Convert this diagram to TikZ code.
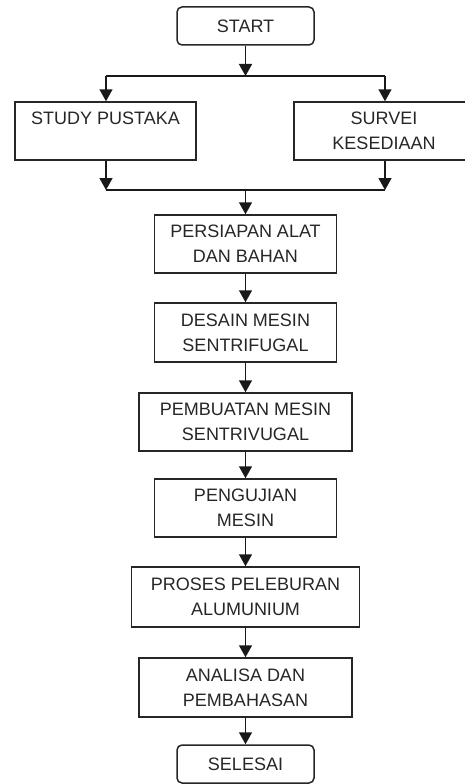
\documentclass[tikz,border=0pt]{standalone}
\usepackage{fontspec}
\setmainfont{Liberation Sans}
\usetikzlibrary{arrows.meta}
\tikzset{
  box/.style={draw=black!85, line width=1.5pt, text=black!85, align=center, inner sep=0pt,
    minimum width=182pt, minimum height=58pt, font=\fontsize{18}{25}\selectfont},
  term/.style={box, rounded corners=5pt, minimum width=137pt, minimum height=38pt},
  flow/.style={line width=1.5pt, draw=black!90, -{Triangle[width=13pt,length=12pt]}},
  line/.style={line width=1.5pt, draw=black!90},
}
\begin{document}
\begin{tikzpicture}[x=1pt,y=-1pt]
\useasboundingbox (0,0) rectangle (464,784);
\node[term] (1) at (245.5,26) {START};
\node[box, minimum width=181pt] (2) at (105.5,131) {STUDY PUSTAKA\\~};
\node[box, minimum width=180pt] (3) at (384,131) {SURVEI\\KESEDIAAN};
\node[box] (4) at (245.5,244) {PERSIAPAN ALAT\\DAN BAHAN};
\node[box, minimum height=59pt] (5) at (245.5,332.5) {DESAIN MESIN\\SENTRIFUGAL};
\node[box, minimum width=213pt] (6) at (245.5,422) {PEMBUATAN MESIN\\SENTRIVUGAL};
\node[box] (7) at (245.5,508) {PENGUJIAN\\MESIN};
\node[box, minimum width=228pt, minimum height=60pt] (8) at (245.5,597) {PROSES PELEBURAN\\ALUMUNIUM};
\node[box, minimum width=213pt, minimum height=59pt] (9) at (245.5,687.5) {ANALISA DAN\\PEMBAHASAN};
\node[term] (10) at (245.5,764) {SELESAI};

\coordinate (a) at (106,76);
\coordinate (b) at (385,76);
\coordinate (c) at (106,190);
\coordinate (d) at (385,190);

\path[flow] (1) -- (1 |- a);
\path[line] (a) -- (b);
\path[flow] (a) -- (a |- 2.north);
\path[flow] (b) -- (b |- 3.north);

\path[flow] (2.south -| c) -- (c);
\path[flow] (3.south -| d) -- (d);
\path[line] (c) -- (d);
\path[flow] (4 |- c) -- (4);

\path[flow] (4) -- (5);
\path[flow] (5) -- (6);
\path[flow] (6) -- (7);
\path[flow] (7) -- (8);
\path[flow] (8) -- (9);
\path[flow] (9) -- (10);
\end{tikzpicture}
\end{document}
